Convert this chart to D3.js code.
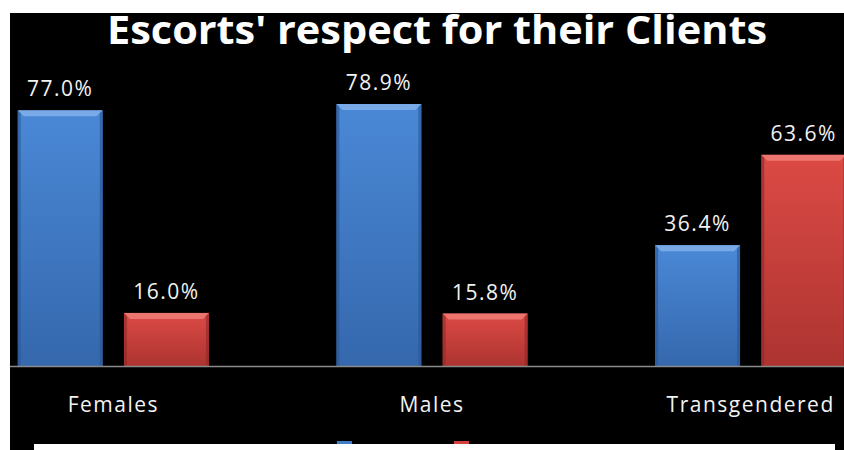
<!DOCTYPE html>
<html>
<head>
<meta charset="utf-8">
<script src="https://cdn.jsdelivr.net/npm/d3@7"></script>
<style>
  body { margin: 0; background: #fff; }
  svg { display: block; }
  text { font-family: "Open Sans", sans-serif; }
</style>
</head>
<body>
<svg id="chart" width="844" height="450"></svg>
<script>
// data
var categories = ['Females', 'Males', 'Transgendered'];
var seriesNames = ['Respect', 'No respect'];
var seriesA = [77.0, 78.9, 36.4];
var seriesB = [16.0, 15.8, 63.6];
var titleText = "Escorts' respect for their Clients";

var svg = d3.select('#chart');
var W = 844, H = 450;
var baseY = 366;

// black backdrop
svg.append('rect')
    .attr('x', 10).attr('y', 13)
    .attr('width', W - 10).attr('height', H - 13)
    .attr('fill', '#000');

// gradients + bevel for the bars
var defs = svg.append('defs');
function makeGrad(id, top, bottom) {
    var g = defs.append('linearGradient').attr('id', id)
        .attr('x1', 0).attr('y1', 0).attr('x2', 0).attr('y2', 1);
    g.append('stop').attr('offset', '0%').attr('stop-color', top);
    g.append('stop').attr('offset', '100%').attr('stop-color', bottom);
}
makeGrad('gBlue', '#4a88d6', '#3568ad');
makeGrad('gRed', '#dc4a45', '#ad3431');

// the plot is wider than the picture, clipped on both sides
var x0 = d3.scaleBand().domain(categories).range([-46, 910]).paddingInner(0).paddingOuter(0);
var x1 = d3.scaleBand().domain(seriesNames).range([0, x0.bandwidth()]).paddingInner(0.2).paddingOuter(0.6);
var y = d3.scaleLinear().domain([0, 100]).range([baseY, 34]);

var rows = [];
categories.forEach(function (c, i) {
    rows.push({ cat: c, s: seriesNames[0], v: seriesA[i], fill: 'url(#gBlue)', light: '#7fb0ea', dark: '#2a5592' });
    rows.push({ cat: c, s: seriesNames[1], v: seriesB[i], fill: 'url(#gRed)', light: '#f07d77', dark: '#8e2826' });
});

var clip = defs.append('clipPath').attr('id', 'plotclip');
clip.append('rect').attr('x', 10).attr('y', 13).attr('width', W - 10).attr('height', H - 13);

var plot = svg.append('g').attr('clip-path', 'url(#plotclip)');

var bars = plot.selectAll('g.bar').data(rows).enter().append('g').attr('class', 'bar');

bars.append('rect')
    .attr('x', function (d) { return x0(d.cat) + x1(d.s); })
    .attr('y', function (d) { return y(d.v); })
    .attr('width', x1.bandwidth())
    .attr('height', function (d) { return baseY - y(d.v); })
    .attr('fill', function (d) { return d.fill; });

// top bevel
var bev = 6;
bars.append('polygon')
    .attr('points', function (d) {
        var bx = x0(d.cat) + x1(d.s), by = y(d.v), bw = x1.bandwidth();
        return [[bx, by], [bx + bw, by], [bx + bw - bev, by + bev], [bx + bev, by + bev]].join(' ');
    })
    .attr('fill', function (d) { return d.light; })
    .attr('opacity', 0.85);
// side edges
bars.append('polygon')
    .attr('points', function (d) {
        var bx = x0(d.cat) + x1(d.s), by = y(d.v);
        return [[bx, by], [bx + 3, by + 3], [bx + 3, baseY], [bx, baseY]].join(' ');
    })
    .attr('fill', function (d) { return d.dark; })
    .attr('opacity', 0.6);
bars.append('polygon')
    .attr('points', function (d) {
        var bx = x0(d.cat) + x1(d.s) + x1.bandwidth(), by = y(d.v);
        return [[bx, by], [bx - 3, by + 3], [bx - 3, baseY], [bx, baseY]].join(' ');
    })
    .attr('fill', function (d) { return d.dark; })
    .attr('opacity', 0.6);

// value labels
plot.selectAll('text.val').data(rows).enter().append('text')
    .attr('class', 'val')
    .attr('x', function (d) { return x0(d.cat) + x1(d.s) + x1.bandwidth() / 2; })
    .attr('y', function (d) { return y(d.v) - 14; })
    .attr('text-anchor', 'middle')
    .attr('fill', '#f2f2f2')
    .style('font-size', '21px')
    .style('letter-spacing', '1.5px')
    .text(function (d) { return d.v.toFixed(1) + '%'; });

// baseline
svg.append('line')
    .attr('x1', 10).attr('x2', W)
    .attr('y1', baseY + 0.5).attr('y2', baseY + 0.5)
    .attr('stroke', '#8a8a8a').attr('stroke-width', 1.5);

// category axis
var xAxis = svg.append('g')
    .attr('transform', 'translate(0,' + baseY + ')')
    .call(d3.axisBottom(x0).tickSize(0).tickPadding(31));
xAxis.select('.domain').remove();
xAxis.selectAll('text')
    .attr('fill', '#f2f2f2')
    .style('font-family', '"Open Sans", sans-serif')
    .style('font-size', '21px')
    .style('letter-spacing', '1.5px');

// title
svg.append('text')
    .attr('x', 437).attr('y', 44)
    .attr('text-anchor', 'middle')
    .attr('fill', '#fff')
    .attr('textLength', 660)
    .attr('lengthAdjust', 'spacingAndGlyphs')
    .style('font-size', '40px')
    .style('font-weight', 'bold')
    .text(titleText);

// legend box, cut off at the bottom edge; swatches only peek out above it
var legendX = d3.scaleOrdinal().domain(seriesNames).range([337, 454]);
svg.selectAll('rect.leg').data(seriesNames).enter().append('rect')
    .attr('class', 'leg')
    .attr('x', function (d) { return legendX(d); })
    .attr('y', 441)
    .attr('width', 15).attr('height', 12)
    .attr('fill', function (d, i) { return i === 0 ? '#3f7cc8' : '#d0423e'; });
svg.append('rect')
    .attr('x', 34).attr('y', 444)
    .attr('width', 801).attr('height', 20)
    .attr('fill', '#fff');
</script>
</body>
</html>
